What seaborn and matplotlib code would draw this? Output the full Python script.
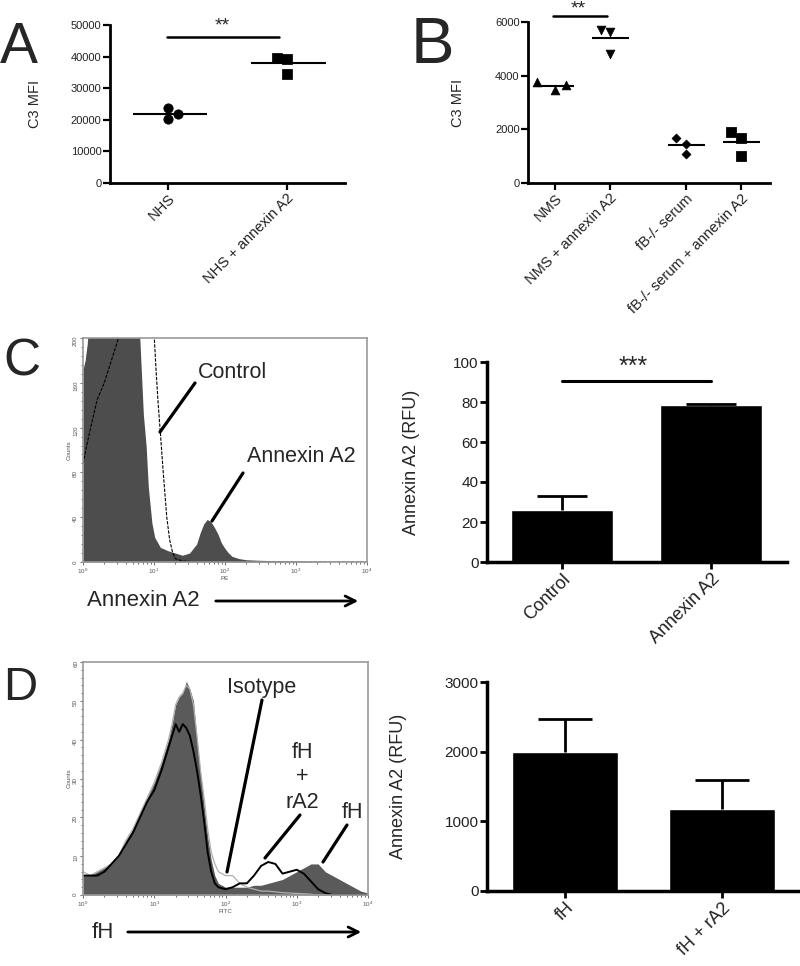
import numpy as np
import pandas as pd
import seaborn as sns
import matplotlib.pyplot as plt
from matplotlib.ticker import MultipleLocator

# ---- data ----
# A: C3 deposition, human serum
a_groups = ["NHS", "NHS + annexin A2"]
a_nhs = [23600, 20400, 21700]
a_nhs_a2 = [39700, 39300, 34500]

# B: C3 deposition, mouse serum
b_groups = ["NMS", "NMS + annexin A2", "fB-/- serum", "fB-/- serum + annexin A2"]
b_nms = [3760, 3480, 3660]
b_nms_a2 = [5710, 5630, 4820]
b_fb = [1680, 1470, 1090]
b_fb_a2 = [1890, 1680, 990]

# C: flow histogram (log10 PE, counts)
c_logx_a2 = [0.0, 0.03, 0.06, 0.1, 0.2, 0.4, 0.6, 0.75, 0.8, 0.85, 0.89, 0.92, 0.97,
             1.01, 1.09, 1.2, 1.3, 1.4, 1.5, 1.55, 1.6, 1.65, 1.7, 1.75, 1.8, 1.85,
             1.9, 1.95, 2.0, 2.05, 2.1, 2.2, 2.3, 2.5, 2.8, 3.1, 3.5, 4.0]
c_counts_a2 = [172, 180, 195, 230, 300, 350, 300, 230, 200, 132, 103, 67, 35,
               22, 13, 10, 8, 6, 8, 12, 16, 26, 34, 38, 36, 31,
               25, 17, 12, 8, 5, 3, 2, 1.5, 1, 0.5, 0, 0]
c_logx_ctrl = [0.0, 0.1, 0.2, 0.3, 0.4, 0.5, 0.6, 0.8, 0.95, 1.0, 1.03, 1.06, 1.09,
               1.13, 1.18, 1.22, 1.26, 1.3, 1.4, 1.6, 4.0]
c_counts_ctrl = [88, 118, 145, 160, 180, 200, 240, 300, 240, 205, 170, 140, 115,
                 80, 40, 20, 9, 3, 1, 0, 0]

# C: bar chart
c_bar_groups = ["Control", "Annexin A2"]
c_bar_means = [25.8, 78.3]
c_bar_err = [7.0, 0.7]

# D: flow histogram (log10 FITC, counts)
d_logx = [0.0, 0.1, 0.2, 0.3, 0.4, 0.5, 0.6, 0.7, 0.8, 0.9, 1.0, 1.1, 1.2,
          1.25, 1.3, 1.35, 1.4, 1.45, 1.5, 1.55, 1.6, 1.65, 1.7, 1.75, 1.8, 1.85, 1.9,
          2.0, 2.1, 2.2, 2.3, 2.4, 2.5, 2.6, 2.7, 2.8, 2.9, 3.0, 3.1, 3.2, 3.3, 3.4,
          3.5, 3.6, 3.7, 3.8, 3.9, 4.0]
d_counts_fh = [5, 5, 6, 7, 8, 10, 14, 17, 21, 25, 29, 34, 40,
               44, 49, 51, 52, 55, 53, 50, 40, 31, 23, 15, 9, 5, 3,
               2, 2, 2, 2, 2.5, 2.5, 3, 3.5, 4, 5, 6, 7, 8, 8, 6,
               5, 4, 3, 2, 1, 0.5]
d_counts_fh_ra2 = [5, 5, 5, 6, 8, 10, 13, 16, 20, 24, 27, 32, 38,
                   41, 44, 42, 44, 43, 41, 37, 32, 26, 19, 11, 6, 3, 2,
                   1.5, 2, 3, 3, 5, 7.5, 8.5, 8, 5.5, 6, 6.5, 5.5, 3.5, 1.5, 0.5,
                   0, 0, 0, 0, 0, 0]
d_counts_iso = [6, 5, 6, 7, 8, 10, 14, 17, 21, 25, 29, 34, 40,
                44, 49, 51, 52, 54, 53, 49, 41, 32, 25, 17, 11, 8, 6,
                5, 5, 3, 2, 1.5, 1, 1, 0.8, 0.6, 0.5, 0.4, 0.3, 0.2, 0, 0,
                0, 0, 0, 0, 0, 0]

# D: bar chart
d_bar_groups = ["fH", "fH + rA2"]
d_bar_means = [1990, 1180]
d_bar_err = [475, 420]

# ---- figure ----
sns.set_theme(style="ticks")
plt.rcParams['font.family'] = ['Liberation Sans', 'DejaVu Sans']

fig = plt.figure(figsize=(8, 9.66), dpi=100)


def box(l, t, r, b):
    # axes from pixel edges
    return fig.add_axes([l / 800, 1 - b / 966, (r - l) / 800, (b - t) / 966])


def prism(ax, lw=2.0, size=8):
    sns.despine(ax=ax)
    for s in ['left', 'bottom']:
        ax.spines[s].set_linewidth(lw)
        ax.spines[s].set_color('black')
    ax.tick_params(width=lw * 0.8, length=5, color='black', direction='out',
                   labelsize=size, labelcolor='#222222', pad=1)


def flow(ax):
    ax.set_xscale('log')
    ax.set_xlim(1, 1e4)
    for s in ax.spines.values():
        s.set_color('#999999')
        s.set_linewidth(1.2)
    ax.tick_params(which='both', labelsize=4.5, colors='#555555', length=2.5,
                   width=0.6, pad=1)
    ax.tick_params(which='minor', length=1.5)
    ax.tick_params(axis='y', labelrotation=90)
    ax.set_ylabel('Counts', fontsize=4.5, color='#555555', labelpad=1)


def cat_labels(ax, labels, size):
    ax.set_xticklabels(labels, rotation=45, ha='right', rotation_mode='anchor',
                       fontsize=size)


def sem_up(ax, means, errs, half):
    # upper-only error bars, GraphPad style
    for x, m, e in zip(range(len(means)), means, errs):
        ax.vlines(x, m, m + e, color='black', lw=2, zorder=2)
        ax.hlines(m + e, x - half, x + half, color='black', lw=2, zorder=2)


# panel A
ax = box(110, 25, 345, 183)
a_pos = [0, 1]
a_jit = [[0, 0, 0.08], [-0.08, 0, 0]]
for i, (vals, mk) in enumerate(zip([a_nhs, a_nhs_a2], ['o', 's'])):
    sns.scatterplot(x=np.array(a_jit[i]) + a_pos[i], y=vals, marker=mk, s=45,
                    color='black', edgecolor='black', ax=ax, legend=False)
    ax.hlines(np.mean(vals), a_pos[i] - 0.3, a_pos[i] + 0.33, color='black', lw=1.5)
ax.set_ylim(0, 50000)
ax.set_yticks(range(0, 50001, 10000))
ax.set_xlim(-0.49, 1.49)
ax.set_xticks(a_pos)
prism(ax)
cat_labels(ax, a_groups, 10.5)
ax.set_ylabel('C3 MFI', fontsize=10.5)
ax.yaxis.set_label_coords(-0.29, 0.5)
ax.plot([-0.01, 0.93], [46300, 46300], color='black', lw=1.8, clip_on=False)
ax.text(0.46, 49700, '**', ha='center', va='center', fontsize=14, clip_on=False)

# panel B
ax = box(528, 22, 770, 183)
b_pos = [0, 1, 2.38, 3.38]
b_jit = [[-0.33, 0, 0.2], [-0.17, 0, 0], [-0.18, 0, 0], [-0.18, 0, 0]]
b_marks = ['^', 'v', 'D', 's']
b_sizes = [40, 40, 22, 50]
for i, vals in enumerate([b_nms, b_nms_a2, b_fb, b_fb_a2]):
    sns.scatterplot(x=np.array(b_jit[i]) + b_pos[i], y=vals, marker=b_marks[i],
                    s=b_sizes[i], color='black', edgecolor='black', ax=ax, legend=False)
    ax.hlines(np.mean(vals), b_pos[i] - 0.33, b_pos[i] + 0.35, color='black', lw=1.5)
ax.set_ylim(0, 6000)
ax.set_yticks(range(0, 6001, 2000))
ax.set_xlim(-0.49, 3.91)
ax.set_xticks(b_pos)
prism(ax)
cat_labels(ax, b_groups, 10.5)
ax.set_ylabel('C3 MFI', fontsize=10.5)
ax.yaxis.set_label_coords(-0.26, 0.5)
ax.plot([-0.03, 0.95], [6220, 6220], color='black', lw=1.8, clip_on=False)
ax.text(0.42, 6480, '**', ha='center', va='center', fontsize=14, clip_on=False)

# panel C histogram
ax = box(83, 338, 367, 562)
flow(ax)
ax.fill_between(10 ** np.array(c_logx_a2), c_counts_a2, color='#4d4d4d', lw=0)
sns.lineplot(x=10 ** np.array(c_logx_ctrl), y=c_counts_ctrl, ax=ax,
             color='black', lw=0.8, ls=(0, (3, 1.2)))
ax.set_ylim(0, 200)
ax.set_yticks(range(0, 201, 40))
ax.yaxis.set_minor_locator(MultipleLocator(8))
ax.set_xlabel('PE', fontsize=4.5, color='#555555', labelpad=0)

# panel C bars
ax = box(487, 362, 787, 562)
dfc = pd.DataFrame({'group': c_bar_groups, 'rfu': c_bar_means})
sns.barplot(data=dfc, x='group', y='rfu', color='black', saturation=1,
            width=0.69, ax=ax)
sem_up(ax, c_bar_means, c_bar_err, 0.17)
ax.set_ylim(0, 100)
ax.set_yticks(range(0, 101, 20))
ax.set_xlim(-0.503, 1.51)
prism(ax, lw=2.5, size=11)
cat_labels(ax, c_bar_groups, 13)
ax.set_xlabel('')
ax.set_ylabel('Annexin A2 (RFU)', fontsize=13)
ax.yaxis.set_label_coords(-0.223, 0.5)
ax.plot([0, 1], [90.5, 90.5], color='black', lw=2.2)
ax.text(0.48, 97.5, '***', ha='center', va='center', fontsize=18, clip_on=False)

# panel D histogram
ax = box(83, 662, 368, 895)
flow(ax)
dx = 10 ** np.array(d_logx)
ax.fill_between(dx, d_counts_fh, color='#5a5a5a', lw=0)
sns.lineplot(x=dx, y=d_counts_iso, ax=ax, color='#b0b0b0', lw=0.9)
sns.lineplot(x=dx, y=d_counts_fh_ra2, ax=ax, color='black', lw=1.4)
ax.set_ylim(0, 60)
ax.set_yticks(range(0, 61, 10))
ax.yaxis.set_minor_locator(MultipleLocator(2))
ax.set_xlabel('FITC', fontsize=4.5, color='#555555', labelpad=0)

# panel D bars
ax = box(487, 682, 798, 891)
dfd = pd.DataFrame({'group': d_bar_groups, 'rfu': d_bar_means})
sns.barplot(data=dfd, x='group', y='rfu', color='black', saturation=1,
            width=0.675, ax=ax)
sem_up(ax, d_bar_means, d_bar_err, 0.17)
ax.set_ylim(0, 3000)
ax.set_yticks(range(0, 3001, 1000))
ax.set_xlim(-0.497, 1.484)
prism(ax, lw=2.5, size=11)
cat_labels(ax, d_bar_groups, 13)
ax.set_xlabel('')
ax.set_ylabel('Annexin A2 (RFU)', fontsize=13)
ax.yaxis.set_label_coords(-0.257, 0.5)

# overlay for panel letters, call-outs and arrows (pixel coords)
ov = fig.add_axes([0, 0, 1, 1], zorder=10)
ov.set_xlim(0, 800)
ov.set_ylim(966, 0)
ov.axis('off')
ov.patch.set_alpha(0)

ov.text(0, 63, 'A', fontsize=41, va='baseline')
ov.text(411, 63, 'B', fontsize=47, va='baseline')
ov.text(3, 376, 'C', fontsize=37, va='baseline')
ov.text(3, 700, 'D', fontsize=34, va='baseline')

ov.text(198, 373, 'Control', fontsize=15.5, va='center')
ov.plot([195, 160], [383, 432], color='black', lw=2.3)
ov.text(247, 456, 'Annexin A2', fontsize=15.5, va='center')
ov.plot([243, 212], [473, 521], color='black', lw=2.3)
ov.text(87, 600, 'Annexin A2', fontsize=16, va='center')
ov.annotate('', xy=(361, 601), xytext=(213, 601),
            arrowprops=dict(arrowstyle='->', lw=2, color='black', mutation_scale=18))

ov.text(262, 688, 'Isotype', fontsize=15.5, ha='center', va='center')
ov.plot([262, 227], [700, 872], color='black', lw=2.3)
ov.text(302, 752, 'fH', fontsize=15.5, ha='center', va='center')
ov.text(302, 777, '+', fontsize=15.5, ha='center', va='center')
ov.text(302, 802, 'rA2', fontsize=15.5, ha='center', va='center')
ov.plot([300, 265], [815, 858], color='black', lw=2.3)
ov.text(353, 813, 'fH', fontsize=15.5, ha='center', va='center')
ov.plot([347, 323], [825, 862], color='black', lw=2.3)
ov.text(92, 932, 'fH', fontsize=16, va='center')
ov.annotate('', xy=(364, 932), xytext=(125, 932),
            arrowprops=dict(arrowstyle='->', lw=2, color='black', mutation_scale=18))

fig.savefig('out.png', dpi=100)
